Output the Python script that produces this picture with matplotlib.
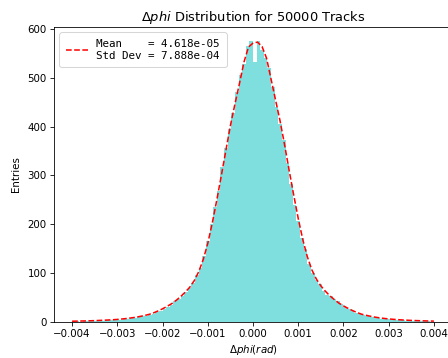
import numpy as np
import matplotlib
matplotlib.use("Agg")
import matplotlib.pyplot as plt

# Histogram: 100 bins between -0.004 and 0.004
bin_lo, bin_hi, n_bins = -0.004, 0.004, 100
counts = [1, 2, 1, 3, 2, 2, 3, 4, 3, 4,
          5, 4, 6, 5, 7, 7, 9, 8, 11, 12,
          13, 15, 17, 20, 22, 27, 31, 35, 42, 48,
          54, 61, 69, 80, 96, 110, 135, 165, 200, 236,
          268, 318, 356, 395, 428, 470, 505, 528, 566, 575,
          533, 576, 557, 541, 520, 482, 440, 405, 372, 325,
          282, 240, 206, 172, 150, 118, 100, 86, 77, 64,
          56, 54, 48, 43, 36, 31, 26, 22, 19, 16,
          14, 12, 11, 10, 9, 7, 7, 6, 5, 5,
          4, 4, 3, 3, 3, 2, 3, 2, 2, 1]

# Fit curve sampled every 0.0001 from -0.004 to 0.004
fit_x = [round(-0.004 + 0.0001 * i, 4) for i in range(81)]
fit_y = [1.6, 1.8, 2.0, 2.2, 2.5, 2.8, 3.2, 3.6, 4.1, 4.6,
         5.3, 6.1, 7.1, 8.3, 9.6, 11.3, 13.3, 15.5, 18.6, 22.6,
         27, 32, 37.4, 44.2, 52, 61, 71, 84.5, 103, 128,
         161, 203, 250, 300, 351, 402, 446, 488, 532, 563,
         571,
         573, 564, 540, 497, 454, 411, 362, 310, 260, 212,
         169, 134, 107, 88, 74, 63, 53.5, 45.8, 38.6, 33,
         28, 23.4, 19.4, 16, 13.7, 11.7, 9.9, 8.5, 7.3, 6.3,
         5.5, 4.8, 4.2, 3.7, 3.2, 2.9, 2.6, 2.3, 2.0, 1.8]

mean_val = "4.618e-05"
std_val = "7.888e-04"

DPI = 74
fig = plt.figure(figsize=(448 / DPI, 358 / DPI), dpi=DPI)
W, H = 448, 358
left, right, top, bottom = 54, 452, 27, 322
ax = fig.add_axes([left / W, (H - bottom) / H, (right - left) / W, (bottom - top) / H])

edges = np.linspace(bin_lo, bin_hi, n_bins + 1)
centers = (edges[:-1] + edges[1:]) / 2
ax.hist(centers, bins=edges, weights=counts, color='c', alpha=0.5)
ax.plot(fit_x, fit_y, 'r--', linewidth=1.5,
        label=f"Mean    = {mean_val}\nStd Dev = {std_val}")

ax.set_xlim(-0.0044, 0.0044)
ax.set_ylim(0, 604)
ax.set_xticks([-0.004, -0.003, -0.002, -0.001, 0.0, 0.001, 0.002, 0.003, 0.004])
ax.set_title(r"$\Delta phi$ Distribution for 50000 Tracks", fontsize=12.7)
ax.set_xlabel(r"$\Delta phi (rad)$", fontsize=10)
ax.set_ylabel("Entries", fontsize=10, labelpad=6)
ax.legend(loc='upper left', prop={'family': 'DejaVu Sans Mono', 'size': 10.6},
          borderpad=0.6, handlelength=2.0)

fig.savefig("out.png", dpi=DPI)
